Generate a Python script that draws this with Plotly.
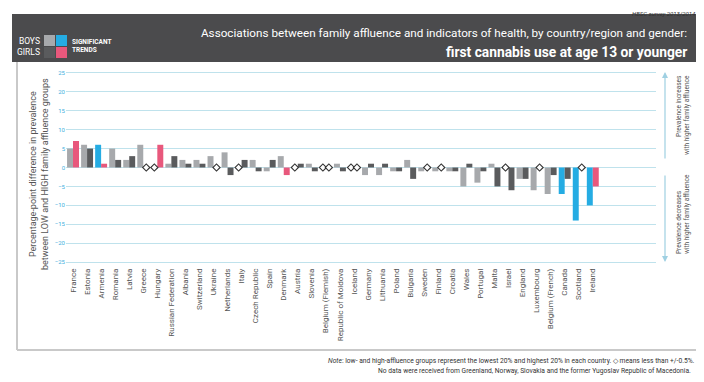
import numpy as np
import plotly.graph_objects as go

countries = ["France", "Estonia", "Armenia", "Romania", "Latvia", "Greece", "Hungary",
             "Russian Federation", "Albania", "Switzerland", "Ukraine", "Netherlands", "Italy",
             "Czech Republic", "Spain", "Denmark", "Austria", "Slovenia", "Belgium (Flemish)",
             "Republic of Moldova", "Iceland", "Germany", "Lithuania", "Poland", "Bulgaria",
             "Sweden", "Finland", "Croatia", "Wales", "Portugal", "Malta", "Israel", "England",
             "Luxembourg", "Belgium (French)", "Canada", "Scotland", "Ireland"]
boys = [5, 6, 6, 5, 2, 6, 0, 1, 2, 2, 3, 4, 0, 2, -1, 3, 0, 1, 0, 1, 0, -2, -2, -1, 2, -1,
        -1, -1, -5, -4, 1, 0, -3, -6, -7, -7, -14, -10]
girls = [7, 5, 1, 2, 3, 0, 6, 3, 1, 1, 0, -2, 2, -1, 2, -2, 1, -1, 0, -1, 0, 1, 1, -1, -3, 0,
         0, -1, 1, -1, -5, -6, -3, 0, -2, -3, 0, -5]
boys_sig = ["Armenia", "Canada", "Scotland", "Ireland"]
girls_sig = ["France", "Armenia", "Hungary", "Denmark", "Ireland"]
n_slots = 42  # 4 countries without data leave empty slots
yticks = list(range(-25, 30, 5))

C_BOYS, C_GIRLS, C_CYAN, C_PINK = "#a7a9ac", "#5a5b5d", "#25ace3", "#e8587c"
GRID = "#bfe2ec"
FONT = "Roboto, Liberation Sans, sans-serif"

# page has an 8px body margin; layout below is in window pixels
OFF = 8
WIN_W, WIN_H = 704, 382
W, H = WIN_W - OFF, WIN_H - OFF
L, R, T, B = 66, 656, 69, 266


def px(x):
    return (x - L) / (R - L)


def py(y):
    return (B - y) / (B - T)


xs = np.arange(len(countries))
bargap = 0.15
off = (1 - bargap) / 4

bcol = [C_CYAN if c in boys_sig else C_BOYS for c in countries]
gcol = [C_PINK if c in girls_sig else C_GIRLS for c in countries]

fig = go.Figure()
fig.add_bar(x=xs, y=boys, marker=dict(color=bcol, line=dict(width=0)), name="Boys")
fig.add_bar(x=xs, y=girls, marker=dict(color=gcol, line=dict(width=0)), name="Girls")

# diamonds: less than +/-0.5
dx, dy = [], []
for i, (b, g) in enumerate(zip(boys, girls)):
    if abs(b) < 0.5:
        dx.append(i - off); dy.append(b)
    if abs(g) < 0.5:
        dx.append(i + off); dy.append(g)
fig.add_scatter(x=dx, y=dy, mode="markers",
                marker=dict(symbol="diamond", size=5.5, color="white",
                            line=dict(color="#333333", width=1.1)),
                showlegend=False, hoverinfo="skip")

shapes = []
# header band
shapes.append(dict(type="rect", xref="paper", yref="paper", x0=px(12), x1=px(700),
                   y0=py(62), y1=py(14), fillcolor="#4b4b4d", line=dict(width=0), layer="below"))
# legend boxes
for (x0, y0, col) in [(44, 35, C_BOYS), (56, 35, C_CYAN), (44, 47, C_GIRLS), (56, 47, C_PINK)]:
    shapes.append(dict(type="rect", xref="paper", yref="paper", x0=px(x0), x1=px(x0 + 11),
                       y0=py(y0 + 11), y1=py(y0), fillcolor=col, line=dict(width=0)))
# panel border
for (x0, y0, x1, y1) in [(17, 62, 17, 350), (17, 350, 697, 350), (697, 62, 697, 350)]:
    shapes.append(dict(type="line", xref="paper", yref="paper", x0=px(x0), x1=px(x1),
                       y0=py(y0), y1=py(y1), line=dict(color="#c9c9c9", width=2)))

ann = []
ann.append(dict(text="<i>HBSC survey 2013/2014</i>", x=px(698), y=py(8.5), xanchor="right",
                yanchor="top", font=dict(size=6, color="#333", family=FONT)))
ann.append(dict(text="BOYS<br>GIRLS", x=px(42), y=py(46), xanchor="right", yanchor="middle",
                align="right", font=dict(size=8.5, color="white", family=FONT)))
ann.append(dict(text="<b>SIGNIFICANT<br>TRENDS</b>", x=px(70), y=py(46), xanchor="left",
                yanchor="middle", align="left", font=dict(size=6.5, color="white", family=FONT)))
ann.append(dict(text="Associations between family affluence and indicators of health, by country/region and gender:",
                x=px(689), y=py(33), xanchor="right", yanchor="middle",
                font=dict(size=11.7, color="white", family=FONT)))
ann.append(dict(text="<b>first cannabis use at age 13 or younger</b>",
                x=px(689), y=py(52), xanchor="right", yanchor="middle",
                font=dict(size=13.8, color="white", family=FONT)))
ann.append(dict(text="Percentage-point difference in prevalence<br>between LOW and HIGH family affluence groups",
                x=px(39), y=py(174), xanchor="center", yanchor="middle", textangle=-90,
                font=dict(size=9, color="#555", family=FONT)))
ann.append(dict(text="Prevalence increases<br>with higher family affluence", x=px(683), y=py(73),
                xanchor="center", yanchor="top", textangle=-90, align="right",
                font=dict(size=6.5, color="#555", family=FONT)))
ann.append(dict(text="Prevalence decreases<br>with higher family affluence", x=px(683), y=py(256),
                xanchor="center", yanchor="bottom", textangle=-90, align="left",
                font=dict(size=6.5, color="#555", family=FONT)))
# arrows
ann.append(dict(text="", x=px(665), y=py(72), ax=0, ay=88, showarrow=True, arrowhead=2,
                arrowsize=1, arrowwidth=1.2, arrowcolor="#9fd0e2"))
ann.append(dict(text="", x=px(665), y=py(262), ax=0, ay=-88, showarrow=True, arrowhead=2,
                arrowsize=1, arrowwidth=1.2, arrowcolor="#9fd0e2"))
ann.append(dict(text="<i>Note</i>: low- and high-affluence groups represent the lowest 20% and highest 20% in each country. \u25c7 means less than +/-0.5%.",
                x=px(697), y=py(361), xanchor="right", yanchor="middle",
                font=dict(size=6.7, color="#333", family=FONT)))
ann.append(dict(text="No data were received from Greenland, Norway, Slovakia and the former Yugoslav Republic of Macedonia.",
                x=px(693), y=py(371), xanchor="right", yanchor="middle",
                font=dict(size=6.7, color="#333", family=FONT)))
for a in ann:
    a.setdefault("xref", "paper")
    a.setdefault("yref", "paper")
    a.setdefault("showarrow", False)

fig.update_layout(
    width=W, height=H,
    margin=dict(l=L - OFF, r=W - (R - OFF), t=T - OFF, b=H - (B - OFF)),
    paper_bgcolor="white", plot_bgcolor="white",
    barmode="group", bargap=bargap, bargroupgap=0, showlegend=False,
    shapes=shapes, annotations=ann,
    xaxis=dict(range=[-0.5, n_slots - 0.5], tickvals=xs, ticktext=countries, tickangle=-90,
               showgrid=False, zeroline=False, ticks="", showline=False,
               tickfont=dict(size=8, color="#555", family=FONT)),
    yaxis=dict(range=[-26, 26], tickvals=yticks, showgrid=True, gridcolor=GRID, gridwidth=1,
               zeroline=True, zerolinecolor=GRID, zerolinewidth=1, ticks="",
               tickfont=dict(size=6, color="#3fb1de", family=FONT)),
)
fig.write_html("out.html")
